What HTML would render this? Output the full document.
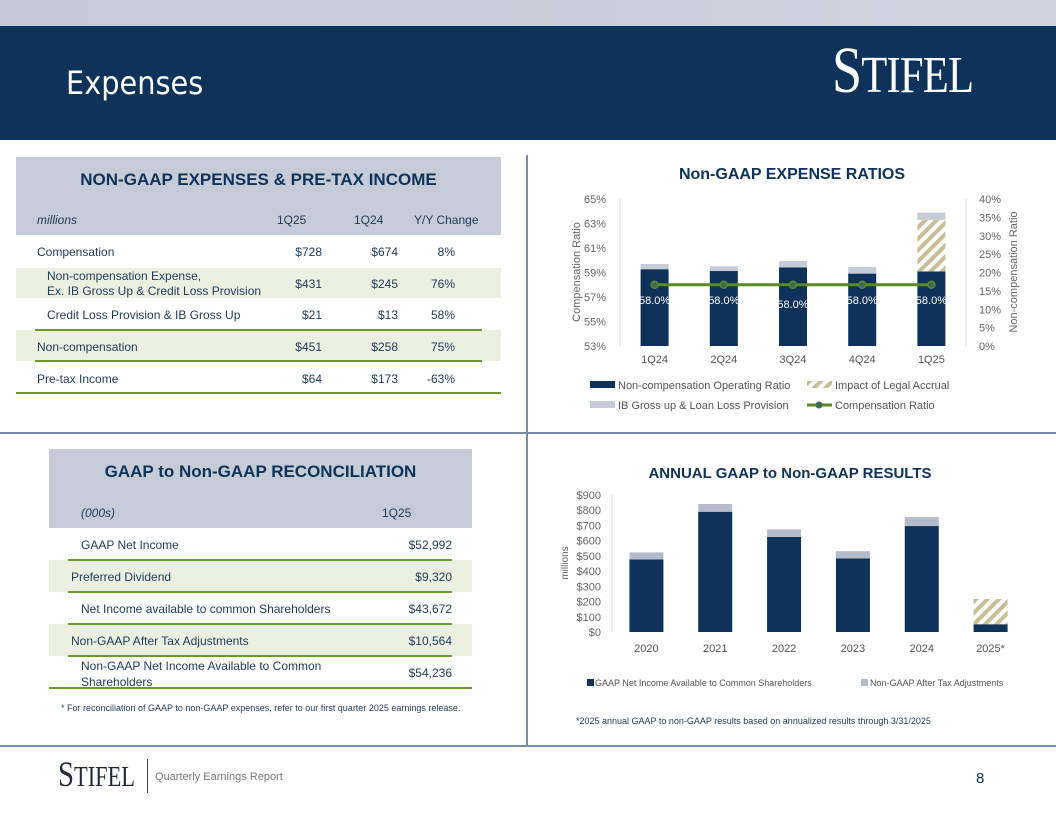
<!DOCTYPE html>
<html><head><meta charset="utf-8"><style>
body{margin:0;width:1056px;height:816px;overflow:hidden;background:#fff;font-family:"Liberation Sans",sans-serif;position:relative;color:#1d3557}
.abs{position:absolute}
.t{position:absolute;font-size:12px;color:#1f3a5c;white-space:nowrap}
.r{text-align:right}
</style></head><body>
<div class="abs" style="left:0;top:0;width:1056px;height:26px;background:linear-gradient(90deg,#c4cad6,#cfd5df)"></div>
<div class="abs" style="left:0;top:26px;width:1056px;height:114px;background:#0e3259"></div>
<div class="abs" style="left:66px;top:64px;font-size:32px;color:#fff;font-family:'DejaVu Sans Condensed','Liberation Sans Narrow',sans-serif">Expenses</div>
<div class="abs" style="left:832px;top:38px;font-size:66px;line-height:66px;color:#fff;font-family:'Liberation Serif',serif;letter-spacing:-1px;transform:scaleX(0.82);transform-origin:left">S<span style="font-size:52px">TIFEL</span></div>

<div class="abs" style="left:526px;top:155px;width:2px;height:592px;background:#7a8caa"></div>
<div class="abs" style="left:0;top:432px;width:1056px;height:2px;background:#7a8caa"></div>
<div class="abs" style="left:0;top:745px;width:1056px;height:2px;background:#7a8caa"></div>

<!-- Table 1 -->
<div class="abs" style="left:16px;top:157px;width:485px;height:78px;background:#c5ccd8"></div>
<div class="t" style="left:16px;width:485px;text-align:center;top:170px;font-size:17px;font-weight:bold;color:#0e3259">NON-GAAP EXPENSES &amp; PRE-TAX INCOME</div>
<div class="t" style="left:37px;top:213px;font-style:italic">millions</div>
<div class="t" style="left:277px;top:213px">1Q25</div>
<div class="t" style="left:354px;top:213px">1Q24</div>
<div class="t" style="left:414px;top:213px">Y/Y Change</div>
<div class="abs" style="left:16px;top:268px;width:485px;height:30px;background:#ebf0e1"></div>
<div class="abs" style="left:16px;top:330px;width:485px;height:31px;background:#ebf0e1"></div>
<div class="abs" style="left:35px;top:329px;width:447px;height:2px;background:#6a9a2e"></div>
<div class="abs" style="left:35px;top:360px;width:447px;height:2px;background:#6a9a2e"></div>
<div class="abs" style="left:16px;top:392px;width:485px;height:2px;background:#6a9a2e"></div>

<div class="t" style="left:37px;top:245px">Compensation</div>
<div class="t r" style="left:270px;width:52px;top:245px">$728</div>
<div class="t r" style="left:346px;width:52px;top:245px">$674</div>
<div class="t r" style="left:400px;width:55px;top:245px">8%</div>

<div class="t" style="left:47px;top:269px;line-height:15px">Non-compensation Expense,<br>Ex. IB Gross Up &amp; Credit Loss Provision</div>
<div class="t r" style="left:270px;width:52px;top:277px">$431</div>
<div class="t r" style="left:346px;width:52px;top:277px">$245</div>
<div class="t r" style="left:400px;width:55px;top:277px">76%</div>

<div class="t" style="left:47px;top:308px">Credit Loss Provision &amp; IB Gross Up</div>
<div class="t r" style="left:270px;width:52px;top:308px">$21</div>
<div class="t r" style="left:346px;width:52px;top:308px">$13</div>
<div class="t r" style="left:400px;width:55px;top:308px">58%</div>

<div class="t" style="left:37px;top:340px">Non-compensation</div>
<div class="t r" style="left:270px;width:52px;top:340px">$451</div>
<div class="t r" style="left:346px;width:52px;top:340px">$258</div>
<div class="t r" style="left:400px;width:55px;top:340px">75%</div>

<div class="t" style="left:37px;top:372px">Pre-tax Income</div>
<div class="t r" style="left:270px;width:52px;top:372px">$64</div>
<div class="t r" style="left:346px;width:52px;top:372px">$173</div>
<div class="t r" style="left:400px;width:55px;top:372px">-63%</div>

<!-- Table 2 -->
<div class="abs" style="left:49px;top:449px;width:423px;height:79px;background:#c5ccd8"></div>
<div class="t" style="left:49px;width:423px;text-align:center;top:462px;font-size:17px;font-weight:bold;color:#0e3259">GAAP to Non-GAAP RECONCILIATION</div>
<div class="t" style="left:81px;top:506px;font-style:italic">(000s)</div>
<div class="t" style="left:382px;top:506px">1Q25</div>
<div class="abs" style="left:49px;top:560px;width:423px;height:32px;background:#ebf0e1"></div>
<div class="abs" style="left:49px;top:624px;width:423px;height:32px;background:#ebf0e1"></div>
<div class="abs" style="left:68px;top:559px;width:384px;height:2px;background:#6a9a2e"></div>
<div class="abs" style="left:68px;top:591px;width:384px;height:2px;background:#6a9a2e"></div>
<div class="abs" style="left:68px;top:623px;width:384px;height:2px;background:#6a9a2e"></div>
<div class="abs" style="left:68px;top:655px;width:384px;height:2px;background:#6a9a2e"></div>
<div class="abs" style="left:49px;top:687px;width:423px;height:2px;background:#6a9a2e"></div>
<div class="t" style="left:81px;top:538px">GAAP Net Income</div>
<div class="t r" style="left:380px;width:72px;top:538px">$52,992</div>
<div class="t" style="left:71px;top:570px">Preferred Dividend</div>
<div class="t r" style="left:380px;width:72px;top:570px">$9,320</div>
<div class="t" style="left:81px;top:602px">Net Income available to common Shareholders</div>
<div class="t r" style="left:380px;width:72px;top:602px">$43,672</div>
<div class="t" style="left:71px;top:634px">Non-GAAP After Tax Adjustments</div>
<div class="t r" style="left:380px;width:72px;top:634px">$10,564</div>
<div class="t" style="left:81px;top:658px;line-height:16px">Non-GAAP Net Income Available to Common<br>Shareholders</div>
<div class="t r" style="left:380px;width:72px;top:666px">$54,236</div>
<div class="t" style="left:61px;top:703px;font-size:9px">* For reconciliation of GAAP to non-GAAP expenses, refer to our first quarter 2025 earnings release.</div>

<!-- Charts -->
<svg class="abs" style="left:0;top:0" width="1056" height="816" id="charts">
<defs><pattern id="hatch" patternUnits="userSpaceOnUse" width="8" height="8" patternTransform="rotate(45)"><rect width="8" height="8" fill="#fff"/><rect width="4" height="8" fill="#c8bd95"/></pattern></defs>
<g id="c1"></g><g id="c2"></g>
</svg>

<div class="abs" style="left:58px;top:754px;font-size:36px;line-height:40px;color:#222a3a;font-family:'Liberation Serif',serif;transform:scaleX(0.8);transform-origin:left">S<span style="font-size:28px">TIFEL</span></div>
<div class="abs" style="left:147px;top:759px;width:1px;height:34px;background:#444"></div>
<div class="t" style="left:155px;top:771px;font-size:11px;color:#777">Quarterly Earnings Report</div>
<div class="t" style="left:976px;top:770px;font-size:15px;color:#0e3259">8</div>

<script>
const quarters=["1Q24","2Q24","3Q24","4Q24","1Q25"];
const nonCompRatio=[20.9,20.4,21.4,19.7,20.3];
const ibGrossUp=[1.4,1.3,1.7,1.8,2.0];
const legalAccrual=[0,0,0,0,14.0];
const compRatio=[58.0,58.0,58.0,58.0,58.0];
const leftTicks=[53,55,57,59,61,63,65];
const rightTicks=[0,5,10,15,20,25,30,35,40];

const years=["2020","2021","2022","2023","2024","2025*"];
const gaapNet=[477,790,625,483,696,51];
const nonGaapAdj=[46,51,49,48,59,0];
const legal2025=[0,0,0,0,0,166];
const dollarTicks=[0,100,200,300,400,500,600,700,800,900];

const NS="http://www.w3.org/2000/svg";
function mk(p,tag,at,txt){const e=document.createElementNS(NS,tag);for(const k in at)e.setAttribute(k,at[k]);if(txt!==undefined)e.textContent=txt;p.appendChild(e);return e;}

// Chart 1
const g1=document.getElementById('c1');
const x0=620,x1=966,yT=199,yB=346;
const yL=v=>yB-(v-53)/12*(yB-yT);
const yR=v=>yB-v/40*(yB-yT);
const band=(x1-x0)/quarters.length;
const xc=i=>x0+band*(i+0.5);
let e;
e=mk(g1,'text',{x:792,y:179,'text-anchor':'middle','font-size':16,'font-weight':'bold',fill:'#0e3259'},'Non-GAAP EXPENSE RATIOS');

mk(g1,'line',{x1:x0,y1:yT,x2:x0,y2:yB,stroke:'#ddd'});
mk(g1,'line',{x1:x1,y1:yT,x2:x1,y2:yB,stroke:'#ddd'});
leftTicks.forEach(v=>{e=mk(g1,'text',{x:606,y:yL(v)+4,'text-anchor':'end','font-size':11,fill:'#666'},v+'%');});
rightTicks.forEach(v=>{e=mk(g1,'text',{x:979,y:yR(v)+4,'font-size':11,fill:'#666'},v+'%');});
e=mk(g1,'text',{transform:'translate(580,272) rotate(-90)','text-anchor':'middle','font-size':11,fill:'#666'},'Compensation Ratio');
e=mk(g1,'text',{transform:'translate(1017,272) rotate(-90)','text-anchor':'middle','font-size':11,fill:'#666'},'Non-compensation Ratio');
const bw=28;
quarters.forEach((q,i)=>{
  const x=xc(i)-bw/2;
  const a=nonCompRatio[i],b=legalAccrual[i],c=ibGrossUp[i];
  e=mk(g1,'rect',{x:x,y:yR(a),width:bw,height:yB-yR(a),fill:'#0e3259'});
  if(b>0){e=mk(g1,'rect',{x:x,y:yR(a+b),width:bw,height:yR(a)-yR(a+b),fill:'url(#hatch)'});}
  e=mk(g1,'rect',{x:x,y:yR(a+b+c),width:bw,height:yR(a+b)-yR(a+b+c),fill:'#c5ccd8'});
  e=mk(g1,'text',{x:xc(i),y:363,'text-anchor':'middle','font-size':11,fill:'#555'},q);
  e=mk(g1,'text',{x:xc(i),y:yL(compRatio[i])+19+(i==2?4:0),'text-anchor':'middle','font-size':11,fill:'#fff'},compRatio[i].toFixed(1)+'%');
});
let pts=quarters.map((q,i)=>xc(i)+','+yL(compRatio[i])).join(' ');
e=mk(g1,'polyline',{points:pts,fill:'none',stroke:'#5a8a24','stroke-width':3});
quarters.forEach((q,i)=>{e=mk(g1,'circle',{cx:xc(i),cy:yL(compRatio[i]),r:3.5,fill:'#3d6b5a',stroke:'#5a8a24','stroke-width':1.5});});
// legend1
e=mk(g1,'rect',{x:590,y:381,width:25,height:7,fill:'#0e3259'});
mk(g1,'text',{x:618,y:389,'font-size':11,fill:'#555'},'Non-compensation Operating Ratio');
e=mk(g1,'rect',{x:807,y:381,width:25,height:7,fill:'url(#hatch)'});
mk(g1,'text',{x:835,y:389,'font-size':11,fill:'#555'},'Impact of Legal Accrual');
e=mk(g1,'rect',{x:590,y:401,width:25,height:7,fill:'#c5ccd8'});
mk(g1,'text',{x:618,y:409,'font-size':11,fill:'#555'},'IB Gross up & Loan Loss Provision');
e=mk(g1,'line',{x1:807,y1:405,x2:832,y2:405,stroke:'#5a8a24','stroke-width':3});
mk(g1,'circle',{cx:819,cy:405,r:3.5,fill:'#3d6b5a'});
mk(g1,'text',{x:835,y:409,'font-size':11,fill:'#555'},'Compensation Ratio');

// Chart 2
const g2=document.getElementById('c2');
const bx0=612,bx1=1025,byT=495,byB=632;
const yD=v=>byB-v/900*(byB-byT);
const band2=(bx1-bx0)/years.length;
const xc2=i=>bx0+band2*(i+0.5);
e=mk(g2,'text',{x:790,y:478,'text-anchor':'middle','font-size':15,'font-weight':'bold',fill:'#0e3259'},'ANNUAL GAAP to Non-GAAP RESULTS');
mk(g2,'line',{x1:612,y1:byT,x2:612,y2:byB,stroke:'#ddd'});
dollarTicks.forEach(v=>{e=mk(g2,'text',{x:601,y:yD(v)+4,'text-anchor':'end','font-size':11,fill:'#666'},'$'+v);});
e=mk(g2,'text',{transform:'translate(568,563) rotate(-90)','text-anchor':'middle','font-size':10,fill:'#666'},'millions');
const bw2=34;
years.forEach((y,i)=>{
  const x=xc2(i)-bw2/2,a=gaapNet[i],b=nonGaapAdj[i],c=legal2025[i];
  e=mk(g2,'rect',{x:x,y:yD(a),width:bw2,height:byB-yD(a),fill:'#0e3259'});
  if(b>0){e=mk(g2,'rect',{x:x,y:yD(a+b),width:bw2,height:yD(a)-yD(a+b),fill:'#b4bccb'});}
  if(c>0){e=mk(g2,'rect',{x:x,y:yD(a+b+c),width:bw2,height:yD(a+b)-yD(a+b+c),fill:'url(#hatch)'});}
  e=mk(g2,'text',{x:xc2(i),y:652,'text-anchor':'middle','font-size':11,fill:'#555'},y);
});
e=mk(g2,'rect',{x:587,y:679,width:7,height:7,fill:'#0e3259'});
mk(g2,'text',{x:595,y:686,'font-size':9,fill:'#555'},'GAAP Net Income Available to Common Shareholders');
e=mk(g2,'rect',{x:861,y:679,width:7,height:7,fill:'#b4bccb'});
mk(g2,'text',{x:870,y:686,'font-size':9,fill:'#555'},'Non-GAAP After Tax Adjustments');
e=mk(g2,'text',{x:576,y:724,'font-size':9,fill:'#1f3a5c'},'*2025 annual GAAP to non-GAAP results based on annualized results through 3/31/2025');
</script>
</body></html>
